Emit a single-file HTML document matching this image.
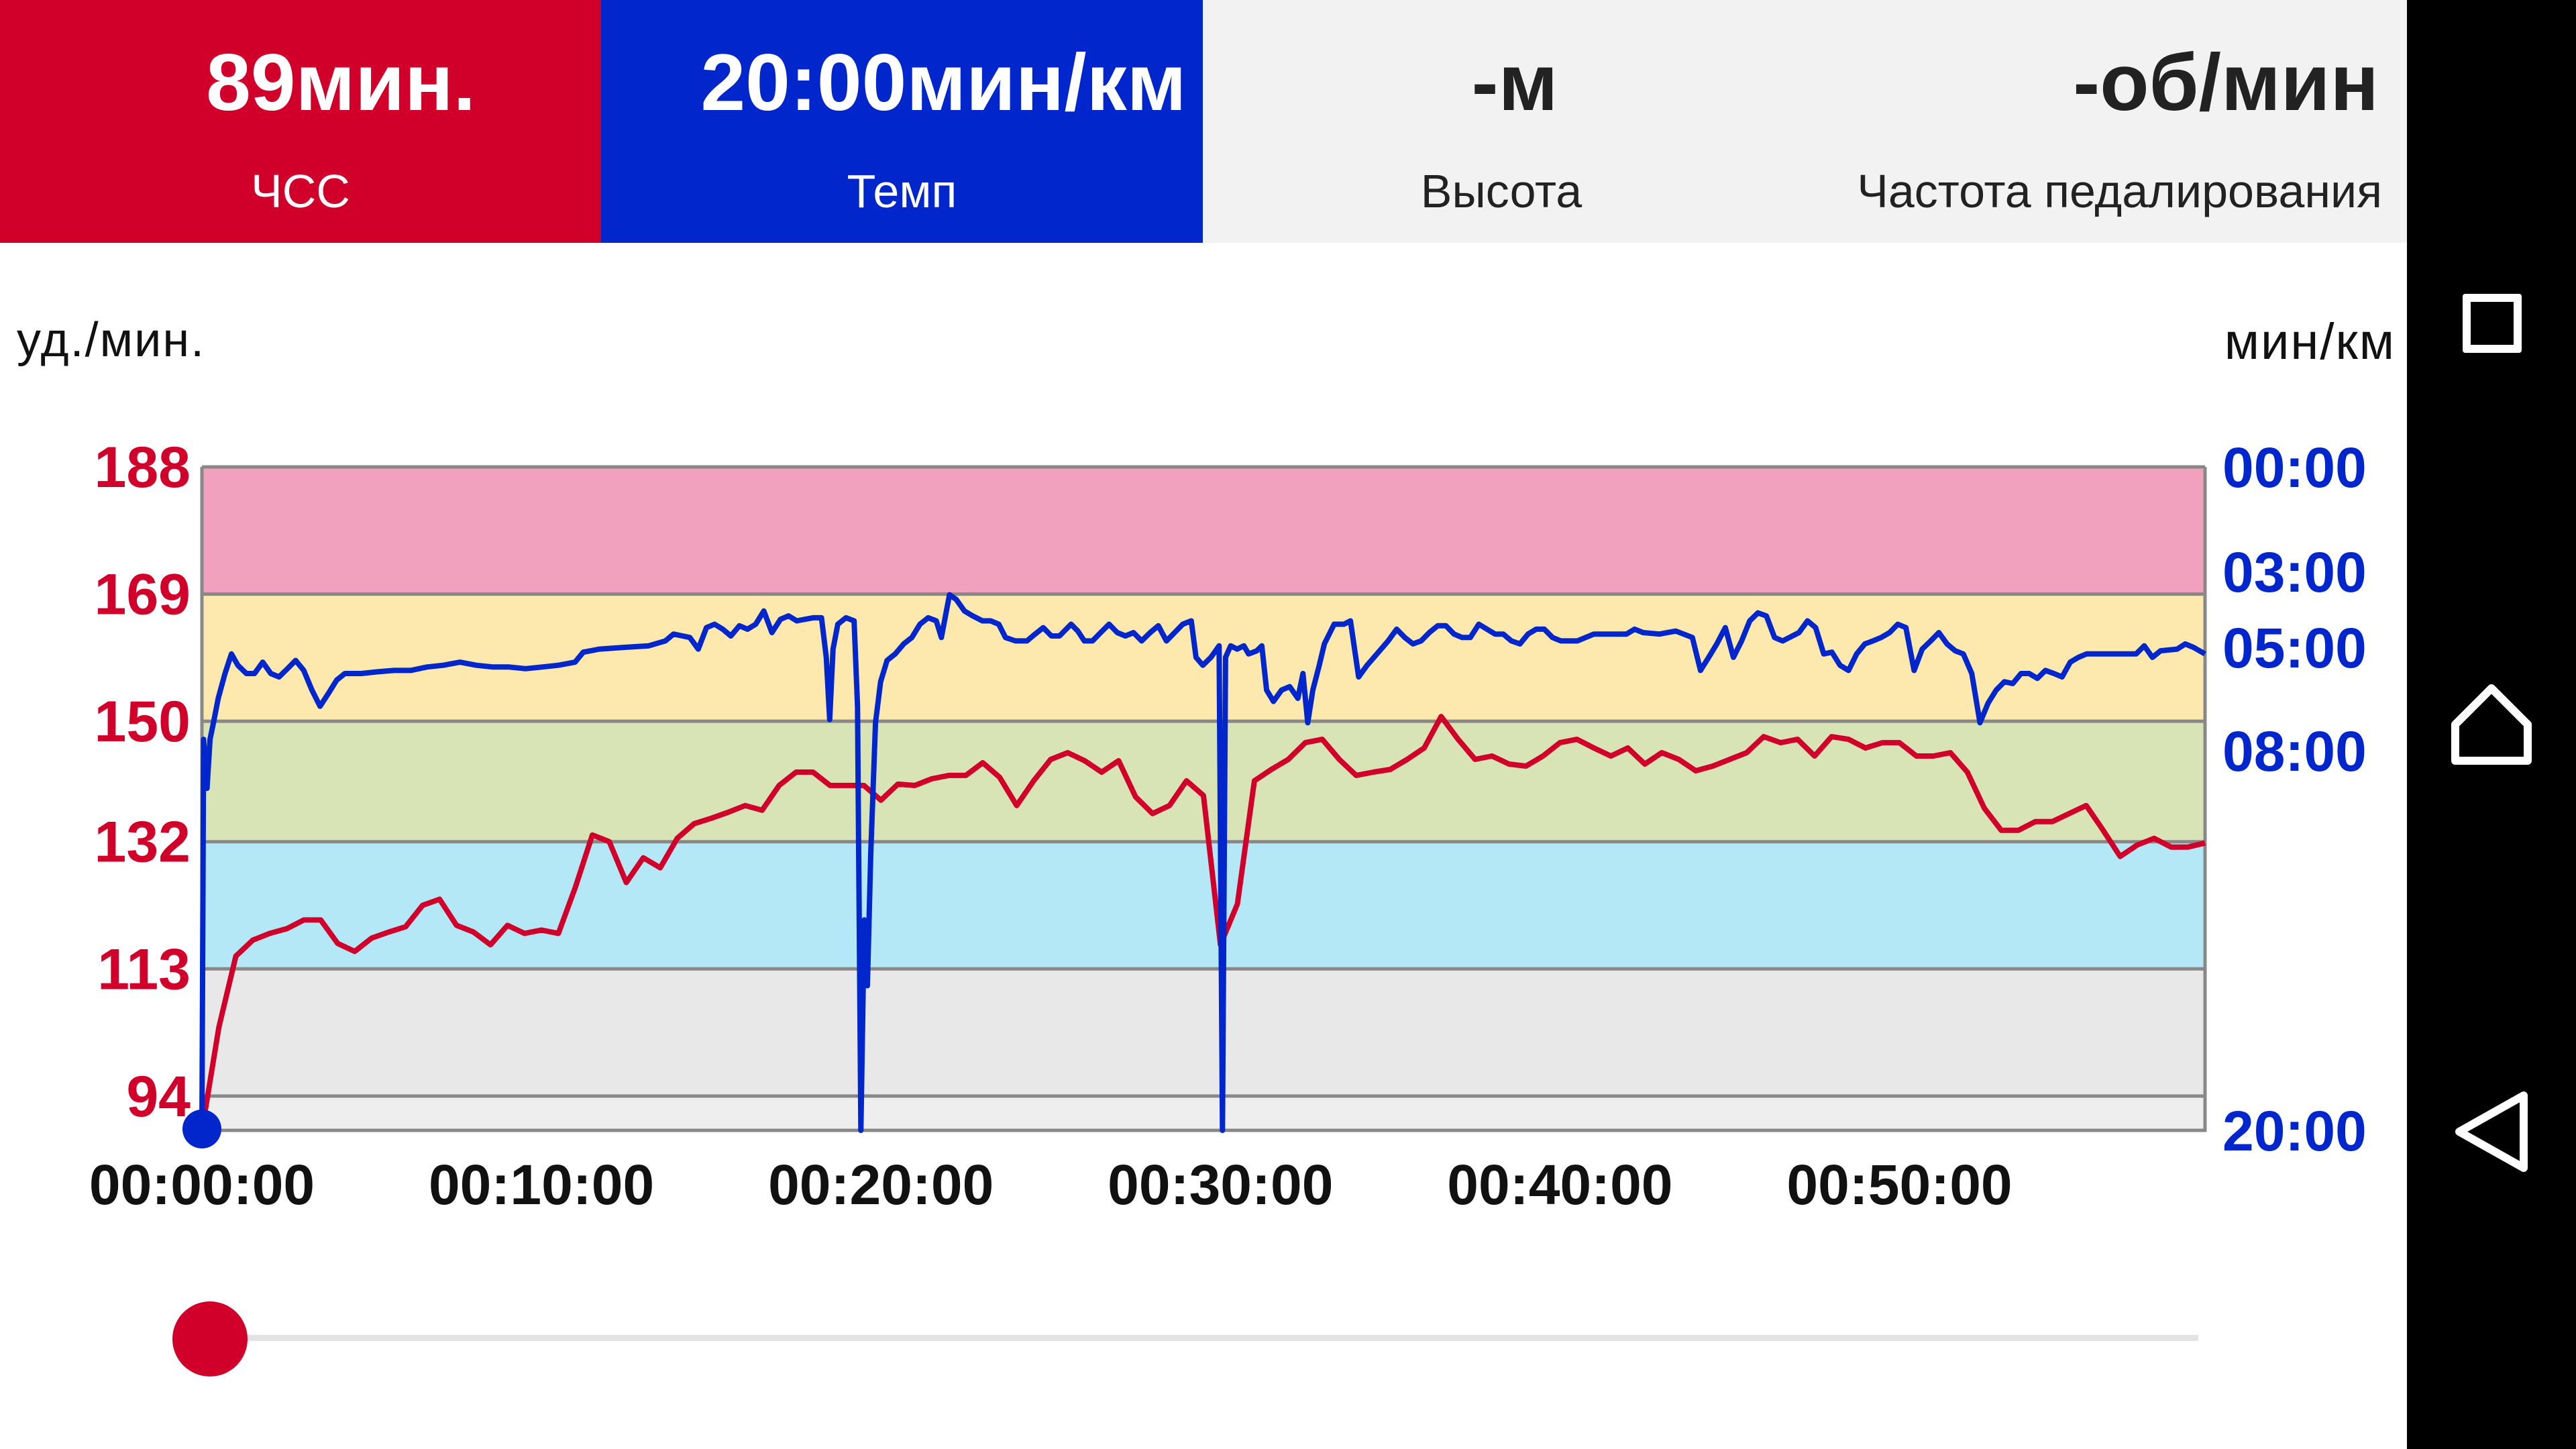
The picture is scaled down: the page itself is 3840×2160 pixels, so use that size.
<!DOCTYPE html>
<html><head><meta charset="utf-8">
<style>
html,body{margin:0;padding:0;width:3840px;height:2160px;overflow:hidden;background:#fff;font-family:"Liberation Sans","Noto Sans CJK SC",sans-serif;}
.panel{position:absolute;top:0;height:362px;}
.big{position:absolute;top:58px;font-size:120px;line-height:130px;white-space:nowrap;font-weight:bold;}
.lbl{position:absolute;top:245px;font-size:70px;line-height:80px;white-space:nowrap;}
</style></head><body>
<div class="panel" style="left:0;width:896px;background:#d1002a;">
 <div class="big" style="left:60px;width:896px;text-align:center;color:#fff;">89мин.</div>
 <div class="lbl" style="left:0;width:896px;text-align:center;color:#fff;">ЧСС</div>
</div>
<div class="panel" style="left:896px;width:897px;background:#0026cc;">
 <div class="big" style="left:62px;width:897px;text-align:center;color:#fff;">20:00мин/км</div>
 <div class="lbl" style="left:0;width:897px;text-align:center;color:#fff;">Темп</div>
</div>
<div class="panel" style="left:1793px;width:1795px;background:#f2f2f2;">
 <div class="big" style="left:265px;width:400px;text-align:center;color:#222;">-м</div>
 <div class="lbl" style="left:245px;width:400px;text-align:center;color:#222;">Высота</div>
 <div class="big" style="right:42px;text-align:right;color:#222;">-об/мин</div>
 <div class="lbl" style="right:37px;text-align:right;color:#222;">Частота педалирования</div>
</div>
<div style="position:absolute;left:3588px;top:0;width:252px;height:2160px;background:#000;">
 <div style="position:absolute;left:83px;top:438px;width:64px;height:64px;border:12px solid #fff;border-radius:4px;"></div>
 <svg style="position:absolute;left:64px;top:1018px" width="124" height="124" viewBox="0 0 124 124"><path d="M62 8 L116 62 L116 116 L8 116 L8 62 Z" fill="none" stroke="#fff" stroke-width="12" stroke-linejoin="round"/></svg>
 <svg style="position:absolute;left:64px;top:1625px" width="124" height="124" viewBox="0 0 124 124"><path d="M110 8 L110 116 L14 62 Z" fill="none" stroke="#fff" stroke-width="12" stroke-linejoin="round"/></svg>
</div>
<div style="position:absolute;left:25px;top:466px;font-size:72px;color:#111;letter-spacing:2px;">уд./мин.</div>
<div style="position:absolute;right:269px;top:466px;font-size:76px;color:#111;letter-spacing:2px;">мин/км</div>

<svg id="chart" style="position:absolute;left:0;top:0" width="3588" height="2160"></svg>

<div style="position:absolute;left:313px;top:1990px;width:2964px;height:9px;background:#e3e3e3;"></div>
<div style="position:absolute;left:257px;top:1940px;width:112px;height:112px;border-radius:50%;background:#d1002a;"></div>

<script>
const hrBands=[188,169,150,132,113,94];
const hrTicks=[188,169,150,132,113,94];
const paceTicks=[0,3,5,8,20];
const paceTickLabels=["00:00","03:00","05:00","08:00","20:00"];
const timeTicks=[0,10,20,30,40,50];
const timeTickLabels=["00:00:00","00:10:00","00:20:00","00:30:00","00:40:00","00:50:00"];
const hrStep=0.5;
const hrValues=[88.8,104.3,114.9,117.3,118.3,119.0,120.3,120.3,116.8,115.6,117.6,118.5,119.3,122.5,123.4,119.5,118.5,116.6,119.5,118.3,118.8,118.3,125.2,133.0,132.0,125.9,129.6,128.1,132.5,134.7,135.5,136.4,137.4,136.7,140.4,142.4,142.4,140.4,140.4,140.4,138.2,140.6,140.4,141.4,141.9,141.9,143.8,141.6,137.4,141.1,144.3,145.3,144.1,142.4,144.1,138.7,136.2,137.4,141.1,138.9,116.6,122.7,141.1,142.8,144.3,146.8,147.3,144.3,141.9,142.4,142.8,144.3,146.0,150.7,147.3,144.3,144.8,143.6,143.3,144.8,146.8,147.3,146.0,144.8,146.0,143.6,145.3,144.3,142.6,143.3,144.3,145.3,147.7,146.8,147.3,144.8,147.7,147.3,146.0,146.8,146.8,144.8,144.8,145.3,142.4,137.0,133.7,133.7,135.0,135.0,136.2,137.4,133.7,129.8,131.5,132.5,131.2,131.2,131.8];
const paceTimes=[0,0.05,0.15,0.24,0.34,0.48,0.68,0.87,1.06,1.31,1.55,1.79,2.03,2.27,2.52,2.76,3.00,3.24,3.48,3.73,3.97,4.21,4.69,5.18,5.66,6.15,6.63,7.11,7.60,8.08,8.57,9.05,9.53,10.02,10.50,10.99,11.23,11.71,12.44,13.16,13.65,13.89,14.37,14.62,14.86,15.10,15.34,15.58,15.83,16.07,16.31,16.55,16.79,17.04,17.28,17.52,17.76,18.00,18.25,18.39,18.49,18.59,18.73,18.97,19.21,19.31,19.41,19.51,19.60,19.70,19.84,19.99,20.18,20.42,20.67,20.91,21.15,21.39,21.63,21.78,22.02,22.22,22.46,22.70,22.99,23.23,23.47,23.67,23.96,24.30,24.54,24.78,25.02,25.26,25.60,25.80,25.99,26.23,26.47,26.72,26.96,27.20,27.44,27.68,27.93,28.17,28.41,28.65,28.89,29.14,29.28,29.48,29.72,29.96,30.06,30.15,30.30,30.49,30.69,30.83,31.07,31.22,31.36,31.56,31.80,32.04,32.28,32.43,32.57,32.72,32.91,33.06,33.35,33.64,33.83,34.07,34.32,34.61,34.94,35.19,35.43,35.67,35.91,36.15,36.40,36.64,36.88,37.12,37.36,37.61,37.85,38.09,38.33,38.57,38.82,39.06,39.30,39.54,39.78,40.03,40.51,41.00,41.48,41.96,42.20,42.45,42.93,43.41,43.90,44.14,44.38,44.62,44.87,45.11,45.35,45.59,45.83,46.08,46.32,46.56,47.04,47.29,47.53,47.77,48.01,48.25,48.50,48.74,48.98,49.22,49.46,49.71,49.95,50.19,50.43,50.67,50.92,51.16,51.40,51.64,51.88,52.13,52.37,52.61,52.85,53.09,53.34,53.58,53.82,54.06,54.30,54.55,54.79,55.03,55.27,55.51,56.48,56.97,57.21,57.45,57.69,58.18,58.42,58.66,59.00];
const paceValues=[20,7.67,9.19,7.67,7.19,6.48,5.76,5.19,5.52,5.76,5.76,5.43,5.76,5.86,5.62,5.38,5.67,6.24,6.71,6.33,5.95,5.76,5.76,5.71,5.67,5.67,5.57,5.52,5.43,5.52,5.57,5.57,5.62,5.57,5.52,5.43,5.14,5.05,5.00,4.96,4.83,4.65,4.74,5.05,4.48,4.39,4.52,4.70,4.43,4.52,4.39,4.04,4.61,4.26,4.17,4.30,4.26,4.22,4.22,5.29,7.10,5.05,4.39,4.22,4.30,6.71,20,13.35,15.43,11.27,7.19,6.00,5.38,5.19,4.91,4.74,4.39,4.22,4.30,4.74,3.61,3.74,4.04,4.17,4.30,4.30,4.39,4.74,4.83,4.83,4.65,4.48,4.70,4.70,4.39,4.57,4.83,4.83,4.61,4.39,4.61,4.70,4.61,4.83,4.61,4.43,4.83,4.61,4.39,4.30,5.29,5.52,5.29,4.96,20,5.29,4.96,5.05,4.96,5.19,5.10,4.96,6.24,6.57,6.24,6.14,6.48,5.76,7.19,6.24,5.52,4.91,4.39,4.39,4.30,5.86,5.52,5.19,4.83,4.52,4.74,4.91,4.83,4.61,4.43,4.43,4.65,4.74,4.74,4.39,4.52,4.65,4.65,4.83,4.91,4.65,4.52,4.52,4.74,4.83,4.83,4.65,4.65,4.65,4.52,4.61,4.65,4.57,4.74,5.67,5.29,4.91,4.48,5.29,4.83,4.30,4.09,4.17,4.74,4.83,4.61,4.30,4.48,5.19,5.14,5.52,5.67,5.19,4.91,4.83,4.74,4.61,4.39,4.48,5.67,5.05,4.83,4.61,4.91,5.10,5.19,5.76,7.19,6.62,6.24,6.00,6.05,5.76,5.76,5.90,5.67,5.76,5.86,5.43,5.29,5.19,5.19,5.19,4.96,5.29,5.10,5.05,4.91,5.00,5.19];

const NS="http://www.w3.org/2000/svg";
const svg=document.getElementById('chart');
const L=301,R=3287,T=696,B=1685,tMax=59;
const xS=t=>L+t/tMax*(R-L);
const yHR=h=>T+(188-h)*9.977;
const paceAnchorPx=[696,852,965,1119,1685];
function yPace(p){
  for(let i=0;i<paceTicks.length-1;i++){
    const a=paceTicks[i],b=paceTicks[i+1];
    if(p<=b||i===paceTicks.length-2){return paceAnchorPx[i]+(p-a)/(b-a)*(paceAnchorPx[i+1]-paceAnchorPx[i]);}
  }
}
function mk(tag,attrs){const e=document.createElementNS(NS,tag);for(const k in attrs)e.setAttribute(k,attrs[k]);svg.appendChild(e);return e;}
const bandColors=["#f1a1bd","#fde8ad","#d9e4b6","#b5e8f6","#e7e8e7"];
for(let i=0;i<hrBands.length-1;i++){
  const r=mk('rect',{x:L,y:yHR(hrBands[i]),width:R-L,height:yHR(hrBands[i+1])-yHR(hrBands[i]),fill:bandColors[i]});
  
  
}
const lowBand=mk('rect',{x:L,y:yHR(94),width:R-L,height:B-yHR(94),fill:"#eeeeee"});


hrBands.forEach(h=>{
  const g=mk('line',{x1:L,x2:R,y1:yHR(h),y2:yHR(h),stroke:"#888",'stroke-width':5});
  
  
});
const frame=mk('path',{d:`M${L} ${T} L${L} ${B} L${R} ${B} L${R} ${T}`,fill:"none",stroke:"#888",'stroke-width':5});



let d='';
hrValues.forEach((v,i)=>{d+=(i?'L':'M')+xS(i*hrStep).toFixed(1)+' '+yHR(v).toFixed(1)+' ';});
const hrLine=mk('path',{d:d,fill:"none",stroke:"#d1002a",'stroke-width':8,'stroke-linejoin':'round'});



d='';
paceValues.forEach((v,i)=>{d+=(i?'L':'M')+xS(paceTimes[i]).toFixed(1)+' '+yPace(v).toFixed(1)+' ';});
const paceLine=mk('path',{d:d,fill:"none",stroke:"#0026cc",'stroke-width':8,'stroke-linejoin':'round'});



const dot=mk('circle',{cx:xS(0),cy:yPace(paceValues[0])-2,r:29,fill:"#0026cc"});



hrTicks.forEach(h=>{
  const t=mk('text',{x:284,y:yHR(h)+30,'text-anchor':'end','font-size':86,'font-weight':'bold',fill:"#d1002a",'font-family':'Liberation Sans, sans-serif'});
  t.textContent=h;
  
  
});
paceTicks.forEach((p,i)=>{
  const t=mk('text',{x:3313,y:yPace(p)+30,'text-anchor':'start','font-size':84,'font-weight':'bold',fill:"#0026cc",'font-family':'Liberation Sans, sans-serif'});
  t.textContent=paceTickLabels[i];
  
  
});
timeTicks.forEach((m,i)=>{
  const t=mk('text',{x:xS(m),y:1795,'text-anchor':'middle','font-size':84,'font-weight':'bold',fill:"#111",'font-family':'Liberation Sans, sans-serif'});
  t.textContent=timeTickLabels[i];
  
  
});
</script>
</body></html>
